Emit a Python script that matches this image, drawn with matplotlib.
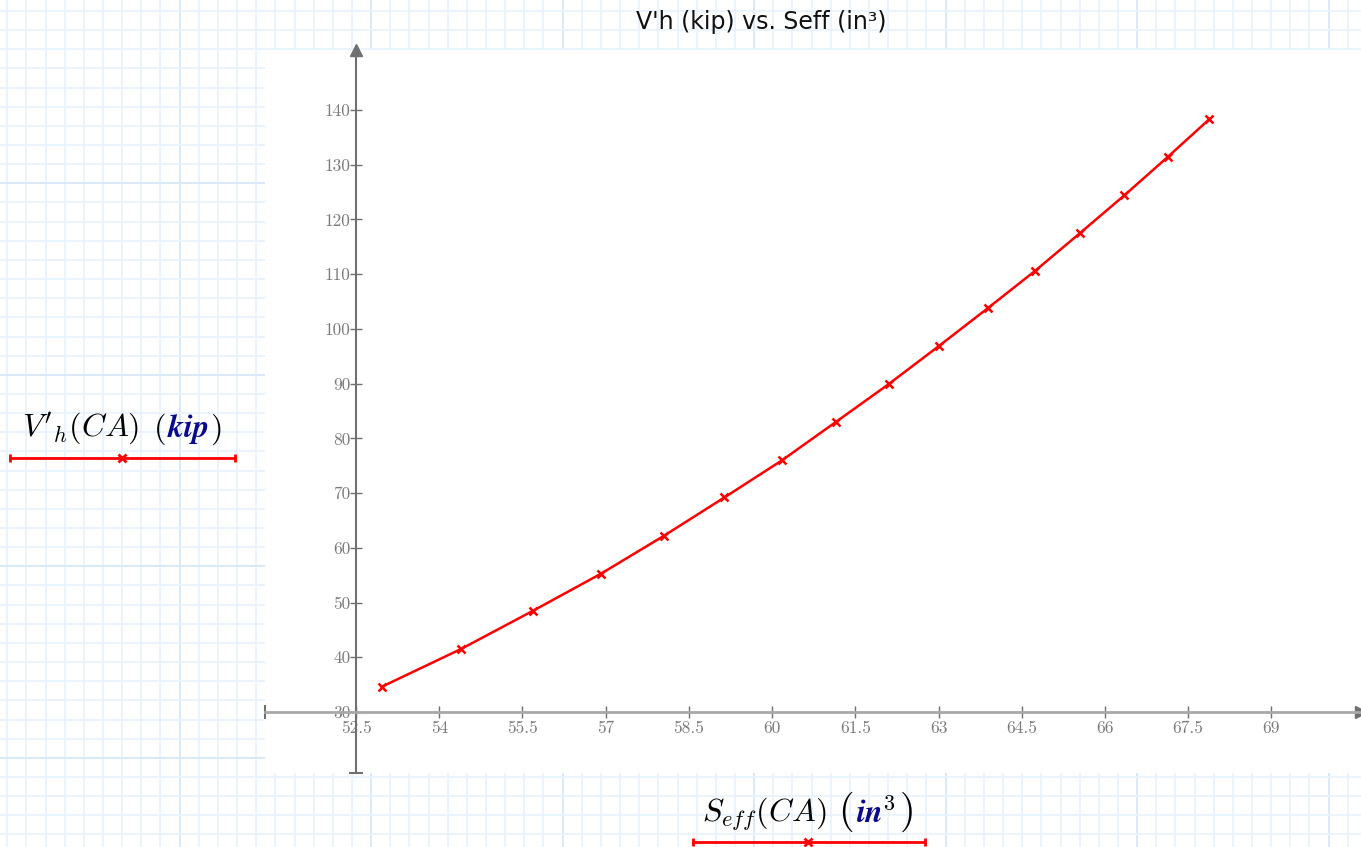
import numpy as np
import matplotlib
matplotlib.use("Agg")
import matplotlib.pyplot as plt

plt.rcParams["mathtext.fontset"] = "cm"

# data
s_eff = [52.96, 54.39, 55.69, 56.92, 58.05, 59.14, 60.18, 61.15,
         62.10, 63.01, 63.89, 64.74, 65.55, 66.35, 67.13, 67.88]
v_h = [34.6, 41.5, 48.5, 55.3, 62.2, 69.2, 76.0, 83.0,
       89.9, 96.9, 103.8, 110.6, 117.5, 124.4, 131.4, 138.3]
x_ticks = [52.5, 54, 55.5, 57, 58.5, 60, 61.5, 63, 64.5, 66, 67.5, 69]
y_ticks = [30, 40, 50, 60, 70, 80, 90, 100, 110, 120, 130, 140]
x_lim = (50.858, 70.616)
y_lim = (18.855, 150.96)

W, H = 1361, 847
fig = plt.figure(figsize=(W / 100, H / 100), dpi=100)

# background: grid paper in pixel coordinates
bg = fig.add_axes([0, 0, 1, 1])
bg.set_xlim(0, W); bg.set_ylim(H, 0); bg.axis("off")
step = 19.15
for k in range(-1, 80):
    c = "#d6e7f8" if k % 10 == 9 else "#e9f2fc"
    bg.axvline(7.3 + k * step, color=c, lw=1.3, zorder=0)
for k in range(-1, 50):
    c = "#d6e7f8" if k % 10 == 9 else "#e9f2fc"
    bg.axhline(11 + k * step, color=c, lw=1.3, zorder=0)

bg.text(761, 22, "V'h (kip) vs. Seff (in³)", ha="center", va="center",
        fontsize=17, family="DejaVu Sans", color="#111111")

renderer = fig.canvas.get_renderer()


def chain(x, y, pieces):
    # place text pieces one after another along a baseline
    for txt, gap, dy, kw in pieces:
        x += gap
        t = bg.text(x, y + dy, txt, ha="left", va="baseline", **kw)
        bb = t.get_window_extent(renderer=renderer)
        x = bg.transData.inverted().transform((bb.x1, bb.y0))[0]


blue = "#0a0a8c"
fs = 23
chain(22, 437, [(r"$V'_{h}(CA)$", 0, 0, dict(fontsize=fs, color="black")),
                (r"$($", 14, 0, dict(fontsize=fs, color="black")),
                (r"$\mathbfit{kip}$", 1, 0, dict(fontsize=fs, color=blue)),
                (r"$)$", 1, 0, dict(fontsize=fs, color="black"))])
bg.plot([10, 235], [458, 458], color="red", lw=2)
bg.plot([10, 235], [458, 458], ls="none", marker="|", ms=6, mew=2, color="red")
bg.plot([122], [458], ls="none", marker="x", ms=6, mew=2, color="red")

chain(702, 822, [(r"$S_{eff}(CA)$", 0, 0, dict(fontsize=fs, color="black")),
                 (r"$($", 12, 0, dict(fontsize=29, color="black")),
                 (r"$\mathbfit{in}$", 2, 0, dict(fontsize=fs, color=blue)),
                 (r"$3$", 1, -12, dict(fontsize=16, color="black")),
                 (r"$)$", 3, 0, dict(fontsize=29, color="black"))])
bg.plot([693, 925], [842, 842], color="red", lw=2)
bg.plot([693, 925], [842, 842], ls="none", marker="|", ms=6, mew=2, color="red")
bg.plot([808], [842], ls="none", marker="x", ms=6, mew=2, color="red")

# main plot region
ax = fig.add_axes([265 / W, (H - 773) / H, (W - 265) / W, (773 - 50) / H])
ax.set_facecolor("white")
ax.set_xlim(*x_lim); ax.set_ylim(*y_lim)
for s in ("top", "right"):
    ax.spines[s].set_visible(False)
ax.spines["left"].set_position(("data", 52.5))
ax.spines["bottom"].set_position(("data", 30))
ax.spines["left"].set_color("#707070"); ax.spines["left"].set_linewidth(1.5)
ax.spines["bottom"].set_color("#a8a8a8"); ax.spines["bottom"].set_linewidth(2)

ax.set_xticks(x_ticks)
ax.set_xticklabels([f"{v:g}" for v in x_ticks])
ax.set_yticks(y_ticks)
ax.set_yticklabels([f"{v:g}" for v in y_ticks])
ax.tick_params(direction="inout", length=8, width=1, color="#707070",
               labelcolor="#7a7a7a", labelsize=12.5)
ax.tick_params(axis="x", pad=2)
ax.tick_params(axis="y", pad=0)
for lab in ax.get_xticklabels() + ax.get_yticklabels():
    lab.set_family("cmr10")

# arrow heads and end bars
ax.plot([52.5], [1.0], marker="^", ms=9, color="#707070", clip_on=False,
        transform=ax.get_xaxis_transform())
ax.plot([1.0], [30], marker=">", ms=9, color="#707070", clip_on=False,
        transform=ax.get_yaxis_transform())
ax.plot([52.5], [0.0], marker="_", ms=10, mew=1.5, color="#707070", clip_on=False,
        transform=ax.get_xaxis_transform())
ax.plot([0.0], [30], marker="|", ms=10, mew=1.5, color="#707070", clip_on=False,
        transform=ax.get_yaxis_transform())

ax.plot(s_eff, v_h, color="red", lw=1.8, marker="x", ms=6, mew=1.8, zorder=5)

fig.savefig("out.png", dpi=100)
